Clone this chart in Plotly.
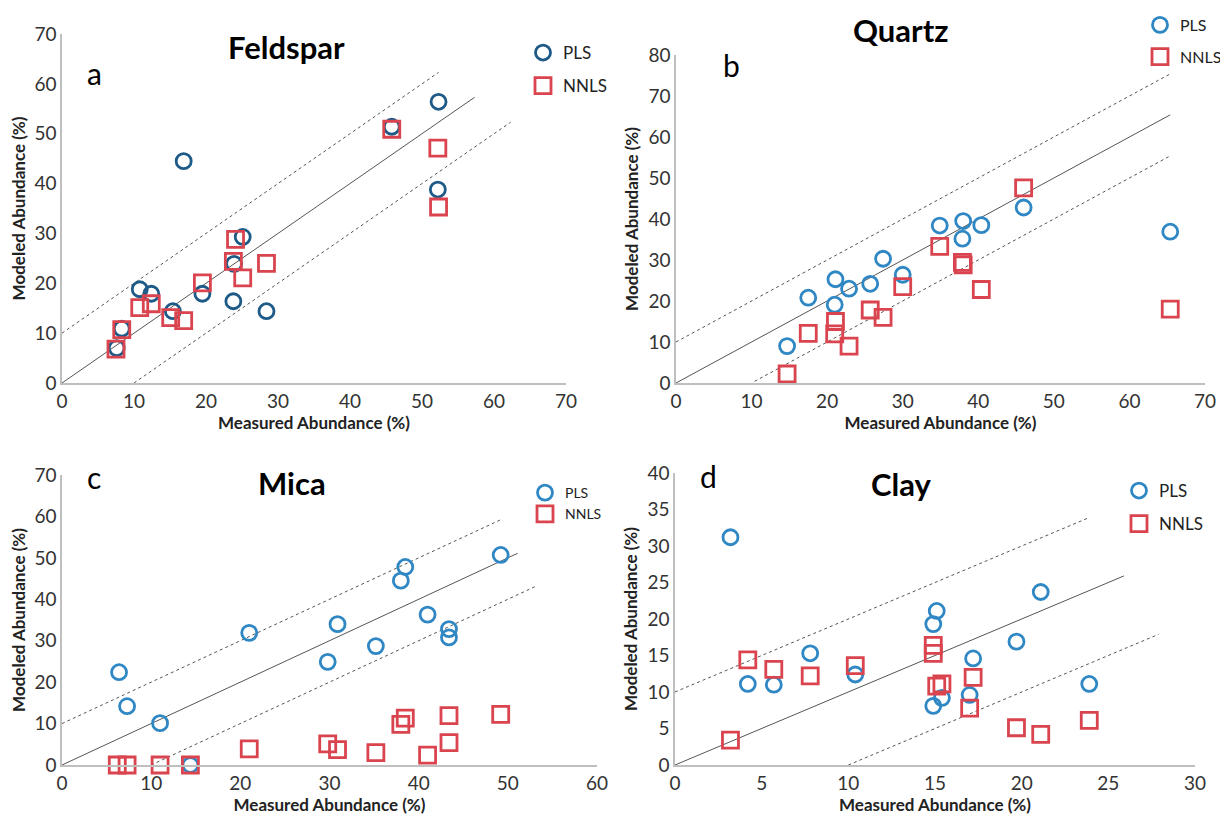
import plotly.graph_objects as go

# ---------------- data ----------------
feldspar_pls_x = [7.6, 8.3, 10.8, 12.4, 15.4, 16.9, 19.5, 23.9, 23.8, 25.1, 28.4, 45.8, 52.3, 52.2]
feldspar_pls_y = [7.0, 10.9, 18.8, 17.9, 14.4, 44.5, 17.9, 23.9, 16.4, 29.3, 14.4, 51.4, 56.4, 38.8]
feldspar_nnls_x = [7.5, 8.3, 10.8, 12.4, 15.1, 16.9, 19.5, 24.1, 23.8, 25.1, 28.4, 45.8, 52.2, 52.3]
feldspar_nnls_y = [6.8, 10.7, 15.1, 15.9, 13.1, 12.5, 20.1, 28.8, 24.4, 21.1, 24.0, 50.9, 47.1, 35.3]

quartz_pls_x = [14.7, 17.5, 21.1, 21.0, 22.9, 25.7, 27.4, 30.0, 34.9, 37.9, 38.0, 40.4, 46.0, 65.4]
quartz_pls_y = [9.0, 20.8, 25.3, 19.1, 23.0, 24.2, 30.3, 26.4, 38.4, 35.2, 39.5, 38.5, 42.8, 36.9]
quartz_nnls_x = [14.7, 17.5, 21.1, 21.0, 22.9, 25.7, 27.4, 30.0, 34.9, 37.9, 38.0, 40.4, 46.0, 65.4]
quartz_nnls_y = [2.2, 12.1, 15.0, 12.0, 9.0, 17.8, 16.0, 23.5, 33.3, 29.4, 28.8, 22.8, 47.6, 18.0]

mica_pls_x = [6.4, 7.3, 11.0, 14.4, 21.0, 29.8, 30.9, 35.2, 38.0, 38.5, 41.0, 43.4, 43.4, 49.2]
mica_pls_y = [22.4, 14.2, 10.1, 0.0, 31.9, 24.9, 34.0, 28.7, 44.5, 47.8, 36.3, 32.8, 30.8, 50.7]
mica_nnls_x = [6.2, 7.3, 11.0, 14.4, 21.0, 29.8, 30.9, 35.2, 38.0, 38.5, 41.0, 43.4, 43.4, 49.2]
mica_nnls_y = [0.0, 0.0, 0.0, 0.0, 3.9, 5.1, 3.7, 3.0, 9.8, 11.3, 2.4, 11.9, 5.4, 12.2]

clay_pls_x = [3.2, 4.2, 5.7, 7.8, 10.4, 15.1, 14.9, 14.9, 15.4, 17.2, 17.0, 19.7, 21.1, 23.9]
clay_pls_y = [31.2, 11.1, 11.0, 15.3, 12.4, 21.1, 19.3, 8.1, 9.2, 14.6, 9.6, 16.9, 23.7, 11.1]
clay_nnls_x = [3.2, 4.2, 5.7, 7.8, 10.4, 14.9, 14.9, 15.1, 15.4, 17.2, 17.0, 19.7, 21.1, 23.9]
clay_nnls_y = [3.4, 14.4, 13.1, 12.2, 13.6, 16.4, 15.3, 10.8, 11.1, 12.0, 7.8, 5.1, 4.2, 6.1]

# 1:1 line and +/-10 % bounds (end points)
feldspar_fit_x = [0, 57.3];  feldspar_up_x = [0, 52.3];  feldspar_lo_x = [10, 62.3]
quartz_fit_x = [0, 65.4];    quartz_up_x = [0, 65.4];    quartz_lo_x = [10.4, 65.4]
mica_fit_x = [0, 51.1];      mica_up_x = [0, 49.2];      mica_lo_x = [10, 53.1]
clay_fit_x = [0, 25.9];      clay_up_x = [0, 23.9];      clay_lo_x = [10, 27.9]
band = 10

titles = ["Feldspar", "Quartz", "Mica", "Clay"]
letters = ["a", "b", "c", "d"]
x_ranges = [[0, 70], [0, 70], [0, 60], [0, 30]]
y_ranges = [[0, 70], [0, 80], [0, 70], [0, 40]]
x_dticks = [10, 10, 10, 5]
y_dticks = [10, 10, 10, 5]

# ---------------- style ----------------
# the page body has an 8 px margin, so the figure is drawn 8 px in from the window corner
OFF = 8
W, H = 1228 - OFF, 822 - OFF
FONT = "Lato"
PLS_COLORS = ["#1d5a87", "#2f87c3", "#2f87c3", "#2f87c3"]
NNLS_COLOR = "#d9444f"
LINE_COLOR = "#555555"


def fx_(px):
    return (px - OFF) / W


def fy_(py):
    return 1 - (py - OFF) / H


# plot areas in window pixels: (x0, x1, ytop, ybottom)
areas = [(62, 566, 34, 383), (676, 1205, 55, 383), (62, 597, 475, 765), (675, 1195, 473, 765)]
title_pos = [(286, 47), (900, 30), (292, 483), (901, 484)]
letter_pos = [(94, 73), (731, 65), (94, 477), (708, 476)]
legend_pos = [(523, 35), (1140, 8), (525, 477), (1119, 473)]
legend_gap = [8, 8, 0, 8]
legend_size = [17, 16, 14, 17]

panels = [
    (feldspar_pls_x, feldspar_pls_y, feldspar_nnls_x, feldspar_nnls_y, feldspar_fit_x, feldspar_up_x, feldspar_lo_x),
    (quartz_pls_x, quartz_pls_y, quartz_nnls_x, quartz_nnls_y, quartz_fit_x, quartz_up_x, quartz_lo_x),
    (mica_pls_x, mica_pls_y, mica_nnls_x, mica_nnls_y, mica_fit_x, mica_up_x, mica_lo_x),
    (clay_pls_x, clay_pls_y, clay_nnls_x, clay_nnls_y, clay_fit_x, clay_up_x, clay_lo_x),
]

fig = go.Figure()
annotations = []
layout = {}

for i, (px, py, nx, ny, fx, ux, lx) in enumerate(panels):
    n = "" if i == 0 else str(i + 1)
    xa, ya = "x" + n, "y" + n
    lg = "legend" + n
    grp = legend_gap[i] > 0

    fig.add_trace(go.Scatter(x=fx, y=fx, mode="lines", xaxis=xa, yaxis=ya, showlegend=False,
                             line=dict(color=LINE_COLOR, width=1), hoverinfo="skip"))
    fig.add_trace(go.Scatter(x=ux, y=[v + band for v in ux], mode="lines", xaxis=xa, yaxis=ya,
                             showlegend=False, line=dict(color=LINE_COLOR, width=1, dash="dot"),
                             hoverinfo="skip"))
    fig.add_trace(go.Scatter(x=lx, y=[v - band for v in lx], mode="lines", xaxis=xa, yaxis=ya,
                             showlegend=False, line=dict(color=LINE_COLOR, width=1, dash="dot"),
                             hoverinfo="skip"))
    fig.add_trace(go.Scatter(x=px, y=py, mode="markers", name="PLS", xaxis=xa, yaxis=ya,
                             legend=lg, legendgroup=("pls" + n) if grp else None, cliponaxis=False,
                             marker=dict(symbol="circle-open", size=15, color=PLS_COLORS[i],
                                         line=dict(width=2.8, color=PLS_COLORS[i]))))
    fig.add_trace(go.Scatter(x=nx, y=ny, mode="markers", name="NNLS", xaxis=xa, yaxis=ya,
                             legend=lg, legendgroup=("nnls" + n) if grp else None, cliponaxis=False,
                             marker=dict(symbol="square-open", size=16, color=NNLS_COLOR,
                                         line=dict(width=2.8, color=NNLS_COLOR))))

    x0, x1, yt, yb = areas[i]
    axis_common = dict(showline=True, linecolor="#bfbfbf", linewidth=1.5, showgrid=False,
                       zeroline=False, ticks="", automargin=False,
                       tickfont=dict(family=FONT, size=19, color="#333333"))
    layout["xaxis" + n] = dict(axis_common, domain=[fx_(x0), fx_(x1)], anchor=ya,
                               range=x_ranges[i], dtick=x_dticks[i], tick0=0,
                               title=dict(text="<b>Measured Abundance (%)</b>", standoff=5,
                                          font=dict(family=FONT, size=17, color="#222222")))
    layout["yaxis" + n] = dict(axis_common, domain=[fy_(yb), fy_(yt)], anchor=xa,
                               range=y_ranges[i], dtick=y_dticks[i], tick0=0,
                               title=dict(text="<b>Modeled Abundance (%)</b>", standoff=5,
                                          font=dict(family=FONT, size=17, color="#222222")))
    lxp, lyp = legend_pos[i]
    layout[lg] = dict(x=fx_(lxp), y=min(fy_(lyp), 1), xanchor="left", yanchor="top",
                      bgcolor="rgba(0,0,0,0)", tracegroupgap=legend_gap[i],
                      font=dict(family=FONT, size=legend_size[i], color="#222222"),
                      itemsizing="trace")

    tx, ty = title_pos[i]
    annotations.append(dict(text="<b>" + titles[i] + "</b>", x=fx_(tx), y=fy_(ty),
                            xref="paper", yref="paper", showarrow=False,
                            xanchor="center", yanchor="middle",
                            font=dict(family=FONT, size=31, color="#000000")))
    lxa, lya = letter_pos[i]
    annotations.append(dict(text=letters[i], x=fx_(lxa), y=fy_(lya), xref="paper", yref="paper",
                            showarrow=False, xanchor="center", yanchor="middle",
                            font=dict(family=FONT, size=30, color="#000000")))

fig.update_layout(width=W, height=H, margin=dict(l=0, r=0, t=0, b=0),
                  paper_bgcolor="white", plot_bgcolor="white",
                  annotations=annotations, **layout)

fig.write_html("out.html")
